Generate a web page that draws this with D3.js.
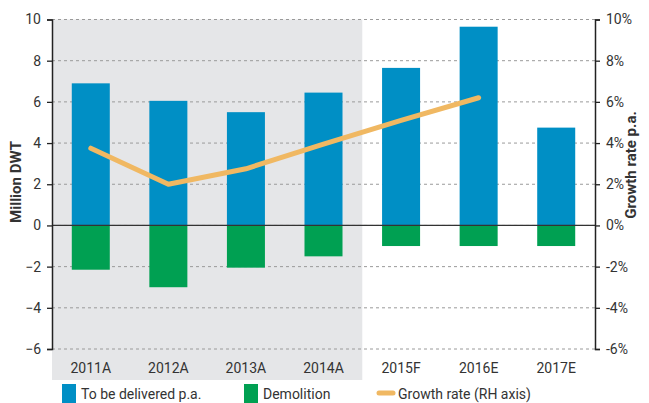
<!DOCTYPE html>
<html>
<head>
<meta charset="utf-8">
<script src="https://cdn.jsdelivr.net/npm/d3@7"></script>
<style>
  body { margin: 0; background: #fff; }
  text { font-family: Roboto, "Noto Sans", sans-serif; fill: #333; }
</style>
</head>
<body>
<div id="chart"></div>
<script>
const years = ["2011A", "2012A", "2013A", "2014A", "2015F", "2016E", "2017E"];
const delivered = [6.9, 6.05, 5.5, 6.45, 7.65, 9.65, 4.75];
const demolition = [-2.15, -3.0, -2.05, -1.5, -1.0, -1.0, -1.0];
const growthYears = ["2011A", "2012A", "2013A", "2014A", "2015F", "2016E"];
const growth = [3.75, 2.0, 2.75, 3.95, 5.1, 6.2];
const leftTicks = [-6, -4, -2, 0, 2, 4, 6, 8, 10];
const rightTicks = [-6, -4, -2, 0, 2, 4, 6, 8, 10];
const actualYears = ["2011A", "2012A", "2013A", "2014A"];

const W = 649, H = 403;
const pLeft = 52, pRight = 595, pTop = 19.5, pBottom = 349;

const svg = d3.select("#chart").append("svg")
  .attr("width", W).attr("height", H);

const x = d3.scaleBand().domain(years).range([pLeft, pRight]).paddingInner(0.51).paddingOuter(0.255);
const xOuter = d3.scaleBand().domain(years).range([pLeft, pRight]);
const y = d3.scaleLinear().domain([-6, 10]).range([pBottom, pTop]);
const y2 = d3.scaleLinear().domain([-6, 10]).range([pBottom, pTop]);

// grey shading for actuals
svg.append("rect")
  .attr("x", xOuter(actualYears[0]))
  .attr("y", pTop)
  .attr("width", xOuter.bandwidth() * actualYears.length)
  .attr("height", 380 - pTop)
  .attr("fill", "#e5e6e8");

// gridlines
svg.append("g").selectAll("line")
  .data(leftTicks)
  .join("line")
  .attr("x1", pLeft).attr("x2", pRight)
  .attr("y1", d => y(d)).attr("y2", d => y(d))
  .attr("stroke", "#9a9a9a")
  .attr("stroke-width", 1)
  .attr("stroke-dasharray", "3,3");

// bars
svg.append("g").selectAll("rect")
  .data(years)
  .join("rect")
  .attr("x", d => x(d))
  .attr("width", x.bandwidth())
  .attr("y", (d, i) => y(delivered[i]))
  .attr("height", (d, i) => y(0) - y(delivered[i]))
  .attr("fill", "#008fc5");

svg.append("g").selectAll("rect")
  .data(years)
  .join("rect")
  .attr("x", d => x(d))
  .attr("width", x.bandwidth())
  .attr("y", y(0))
  .attr("height", (d, i) => y(demolition[i]) - y(0))
  .attr("fill", "#00a052");

// zero line
svg.append("line")
  .attr("x1", pLeft).attr("x2", pRight)
  .attr("y1", y(0)).attr("y2", y(0))
  .attr("stroke", "#333").attr("stroke-width", 1.3);

// growth line
const line = d3.line()
  .x((d, i) => x(growthYears[i]) + x.bandwidth() / 2)
  .y(d => y2(d));
svg.append("path")
  .datum(growth)
  .attr("d", line)
  .attr("fill", "none")
  .attr("stroke", "#f0b862")
  .attr("stroke-width", 5)
  .attr("stroke-linecap", "round")
  .attr("stroke-linejoin", "round");

// axes
const yAxis = d3.axisLeft(y).tickValues(leftTicks).tickSize(5).tickPadding(6);
const gl = svg.append("g").attr("transform", `translate(${pLeft},0)`).call(yAxis);
const y2Axis = d3.axisRight(y2).tickValues(rightTicks).tickSize(5).tickPadding(6)
  .tickFormat(d => d + "%");
const gr = svg.append("g").attr("transform", `translate(${pRight},0)`).call(y2Axis);
[gl, gr].forEach(g => {
  g.select(".domain").attr("stroke", "#222").attr("stroke-width", 1.5);
  g.selectAll(".tick line").attr("stroke", "#222").attr("stroke-width", 1.3);
  g.selectAll(".tick text").attr("font-size", 14).attr("fill", "#333")
    .attr("font-family", "Roboto, sans-serif");
});

// x labels
svg.append("g").selectAll("text")
  .data(years)
  .join("text")
  .attr("x", d => xOuter(d) + xOuter.bandwidth() / 2)
  .attr("y", 373)
  .attr("text-anchor", "middle")
  .attr("font-size", 14)
  .text(d => d);

// axis titles
svg.append("text")
  .attr("transform", "translate(21,182) rotate(-90)")
  .attr("text-anchor", "middle")
  .attr("font-size", 15).attr("font-weight", "bold").attr("fill", "#111")
  .text("Million DWT");
svg.append("text")
  .attr("transform", "translate(636,165) rotate(-90)")
  .attr("text-anchor", "middle")
  .attr("font-size", 15).attr("font-weight", "bold").attr("fill", "#111")
  .text("Growth rate p.a.");

// legend
const lg = svg.append("g");
lg.append("rect").attr("x", 62).attr("y", 384).attr("width", 14).attr("height", 19).attr("fill", "#008fc5");
lg.append("text").attr("x", 81).attr("y", 399).attr("font-size", 14).text("To be delivered p.a.");
lg.append("rect").attr("x", 244).attr("y", 384).attr("width", 14).attr("height", 19).attr("fill", "#00a052");
lg.append("text").attr("x", 263).attr("y", 399).attr("font-size", 14).text("Demolition");
lg.append("line").attr("x1", 379).attr("x2", 393).attr("y1", 393).attr("y2", 393)
  .attr("stroke", "#f0b862").attr("stroke-width", 5).attr("stroke-linecap", "round");
lg.append("text").attr("x", 398).attr("y", 399).attr("font-size", 14).text("Growth rate (RH axis)");
</script>
</body>
</html>
